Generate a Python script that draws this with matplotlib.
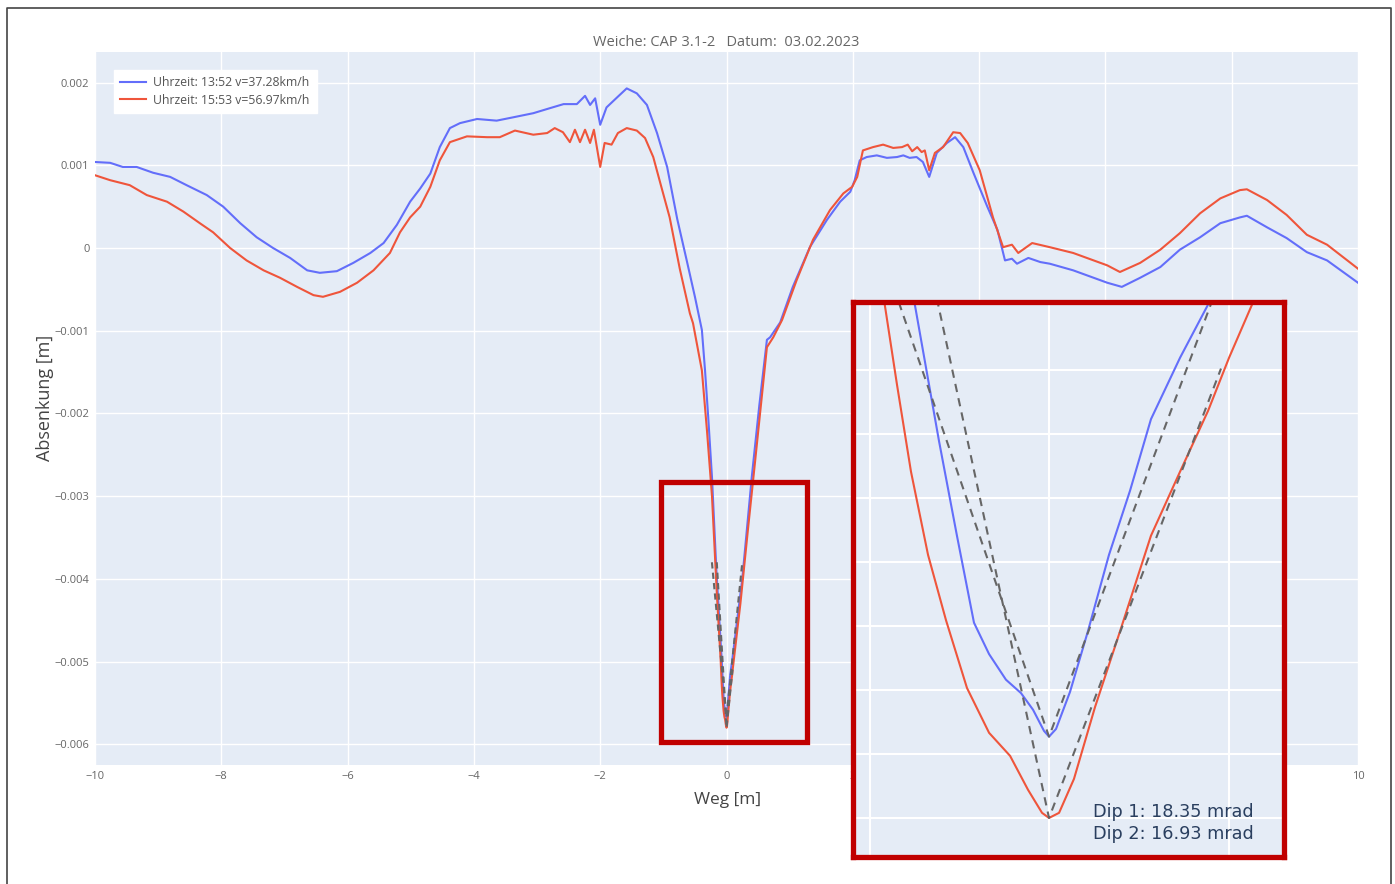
import numpy as np
import matplotlib
matplotlib.use("Agg")
import matplotlib.pyplot as plt
from matplotlib.patches import Rectangle

# === DATA (Weg in m, Absenkung in mm) ===
labels = ["Uhrzeit: 13:52 v=37.28km/h", "Uhrzeit: 15:53 v=56.97km/h"]
dip_texts = ["Dip 1: 18.35 mrad", "Dip 2: 16.93 mrad"]

weg_1 = [-10.0, -9.76, -9.56, -9.34, -9.08, -8.81, -8.55, -8.23, -7.97, -7.70,
         -7.44, -7.18, -6.91, -6.64, -6.44, -6.17, -5.91, -5.64, -5.43, -5.22,
         -5.01, -4.85, -4.69, -4.54, -4.38, -4.22, -3.95, -3.64, -3.38, -3.06,
         -2.80, -2.58, -2.37, -2.24, -2.16, -2.08, -2.00, -1.90, -1.72, -1.58,
         -1.42, -1.26, -1.10, -0.94, -0.78, -0.63, -0.50, -0.39, -0.34, -0.29,
         -0.23, -0.16,
         -0.0752, -0.0613, -0.0513, -0.0418, -0.0334, -0.024, -0.0156, -0.0089,
         -0.0028, 0.0, 0.0039, 0.0117, 0.0217, 0.0334, 0.0451, 0.0568, 0.073,
         0.0886,
         0.25, 0.40, 0.52, 0.64, 0.69, 0.85, 1.05, 1.32, 1.59, 1.80,
         1.96, 2.03, 2.11, 2.22, 2.38, 2.54, 2.70, 2.80, 2.90, 3.01,
         3.11, 3.21, 3.33, 3.49, 3.62, 3.75, 3.91, 4.13, 4.29, 4.41,
         4.52, 4.60, 4.78, 4.97, 5.12, 5.49, 6.03, 6.26, 6.55, 6.87,
         7.18, 7.50, 7.82, 8.13, 8.24, 8.56, 8.87, 9.19, 9.51, 10.0]
abs_1 = [1.04, 1.03, 0.98, 0.98, 0.91, 0.86, 0.76, 0.64, 0.50, 0.30,
         0.13, 0.00, -0.12, -0.27, -0.30, -0.28, -0.18, -0.06, 0.06, 0.28,
         0.56, 0.72, 0.90, 1.22, 1.45, 1.51, 1.56, 1.54, 1.58, 1.63,
         1.69, 1.74, 1.74, 1.84, 1.73, 1.81, 1.49, 1.70, 1.83, 1.93,
         1.87, 1.73, 1.39, 0.98, 0.35, -0.15, -0.59, -0.99, -1.48, -2.04,
         -2.77, -3.90,
         -4.991, -5.211, -5.359, -5.495, -5.544, -5.584, -5.605, -5.631,
         -5.664, -5.673, -5.661, -5.603, -5.508, -5.389, -5.289, -5.177, -5.081,
         -4.998,
         -4.00, -2.77, -1.90, -1.11, -1.08, -0.90, -0.47, 0.01, 0.34, 0.56,
         0.68, 0.82, 1.06, 1.10, 1.12, 1.09, 1.10, 1.12, 1.09, 1.10,
         1.04, 0.86, 1.15, 1.27, 1.34, 1.22, 0.91, 0.50, 0.22, -0.15,
         -0.13, -0.19, -0.12, -0.17, -0.19, -0.27, -0.42, -0.47, -0.36, -0.23,
         -0.02, 0.13, 0.30, 0.37, 0.39, 0.25, 0.12, -0.05, -0.15, -0.42]

weg_2 = [-10.0, -9.76, -9.45, -9.18, -8.86, -8.60, -8.34, -8.13, -7.86, -7.60,
         -7.33, -7.07, -6.80, -6.54, -6.39, -6.12, -5.85, -5.59, -5.33, -5.17,
         -5.01, -4.85, -4.69, -4.54, -4.38, -4.11, -3.79, -3.59, -3.35, -3.06,
         -2.84, -2.72, -2.59, -2.48, -2.40, -2.32, -2.24, -2.16, -2.10, -2.00,
         -1.93, -1.82, -1.72, -1.58, -1.42, -1.29, -1.16, -1.05, -0.90, -0.74,
         -0.58, -0.53, -0.39, -0.31, -0.23, -0.15,
         -0.0919, -0.0847, -0.0769, -0.0674, -0.0574, -0.0457, -0.0334, -0.0217,
         -0.0117, -0.0039, 0.0, 0.0056, 0.0139, 0.0256, 0.0396, 0.0568, 0.073,
         0.0886, 0.1003, 0.1131,
         0.22, 0.34, 0.45, 0.64, 0.74, 0.88, 1.11, 1.37, 1.64, 1.85,
         1.99, 2.07, 2.16, 2.32, 2.48, 2.64, 2.78, 2.87, 2.94, 3.02,
         3.09, 3.14, 3.21, 3.30, 3.43, 3.59, 3.70, 3.82, 4.01, 4.22,
         4.38, 4.52, 4.62, 4.84, 5.12, 5.49, 6.03, 6.23, 6.55, 6.87,
         7.18, 7.50, 7.82, 8.13, 8.24, 8.56, 8.87, 9.19, 9.51, 10.0]
abs_2 = [0.88, 0.82, 0.76, 0.64, 0.56, 0.44, 0.30, 0.19, 0.00, -0.15,
         -0.27, -0.36, -0.47, -0.57, -0.59, -0.53, -0.42, -0.27, -0.06, 0.19,
         0.37, 0.50, 0.74, 1.06, 1.28, 1.35, 1.34, 1.34, 1.42, 1.37,
         1.39, 1.45, 1.40, 1.28, 1.43, 1.28, 1.43, 1.27, 1.43, 0.98,
         1.27, 1.25, 1.39, 1.45, 1.42, 1.33, 1.10, 0.79, 0.37, -0.25,
         -0.79, -0.91, -1.48, -2.20, -3.00, -4.22,
         -4.991, -5.123, -5.259, -5.389, -5.491, -5.597, -5.667, -5.703,
         -5.756, -5.792, -5.800, -5.792, -5.739, -5.627, -5.508, -5.359, -5.259,
         -5.164, -5.081, -4.998,
         -4.30, -3.40, -2.60, -1.20, -1.08, -0.87, -0.39, 0.10, 0.46, 0.66,
         0.74, 0.86, 1.18, 1.22, 1.25, 1.21, 1.22, 1.25, 1.17, 1.22,
         1.16, 1.18, 0.94, 1.15, 1.22, 1.40, 1.39, 1.27, 0.94, 0.37,
         0.01, 0.04, -0.06, 0.06, 0.01, -0.06, -0.21, -0.29, -0.18, -0.02,
         0.18, 0.42, 0.60, 0.70, 0.71, 0.58, 0.40, 0.16, 0.04, -0.25]

# tangent lines at the dip (dashed)
tang_1_x = [-0.231, 0.0, 0.250]
tang_1_y = [-3.80, -5.673, -3.80]
tang_2_x = [-0.154, 0.0, 0.0958]
tang_2_y = [-3.80, -5.800, -5.098]

BLUE = "#636efa"
RED = "#ef553b"
BOX = "#c00000"
BG = "#e5ecf6"
W, H = 1395, 884


def m(v):
    return np.array(v) / 1000.0


plt.rcParams["font.family"] = ["Open Sans", "DejaVu Sans"]

fig = plt.figure(figsize=(W / 100, H / 100), dpi=100)

# === MAIN PLOT ===
ax = fig.add_axes([95 / W, 1 - 765 / H, 1263 / W, 713 / H])
ax.set_facecolor(BG)
for s in ax.spines.values():
    s.set_visible(False)
ax.grid(True, color="white", lw=1.0)
ax.set_axisbelow(True)

ax.plot(weg_1, m(abs_1), color=BLUE, lw=1.5, label=labels[0])
ax.plot(weg_2, m(abs_2), color=RED, lw=1.5, label=labels[1])
ax.plot(tang_1_x, m(tang_1_y), color="#666666", lw=1.5, ls=(0, (3, 2)))
ax.plot(tang_2_x, m(tang_2_y), color="#666666", lw=1.5, ls=(0, (3, 2)))

ax.set_xlim(-10, 10)
ax.set_ylim(-0.006251, 0.00237)
xt = np.arange(-10, 11, 2)
ax.set_xticks(xt)
ax.set_xticklabels([str(v).replace("-", "\u2212") for v in xt])
yt = np.arange(-6, 3) / 1000.0
ax.set_yticks(yt)
ax.set_yticklabels(["0" if v == 0 else f"{v:.3f}".replace("-", "\u2212") for v in yt])
ax.tick_params(length=0, labelsize=8, colors="#666666", pad=4)

leg = ax.legend(loc="upper left", bbox_to_anchor=(0.010, 0.984), fontsize=8.8,
                frameon=True, fancybox=False, handlelength=2.1, borderpad=0.55,
                labelspacing=0.35, handletextpad=0.6)
leg.get_frame().set_facecolor("white")
leg.get_frame().set_edgecolor("white")
leg.get_frame().set_alpha(1)
for t in leg.get_texts():
    t.set_color("#555555")

# red marker box round the dip
ax.add_patch(Rectangle((-1.03, -0.005967), 2.31, 0.003132, fill=False,
                       edgecolor=BOX, lw=3.8, zorder=5, clip_on=False))

fig.text(726 / W, 1 - 43 / H, "Weiche: CAP 3.1-2   Datum:  03.02.2023",
         ha="center", va="center", fontsize=10.5, color="#666666")
fig.text(45 / W, 1 - 398 / H, "Absenkung [m]", rotation=90, ha="center",
         va="center", fontsize=13, color="#444444")
fig.text(728 / W, 1 - 800 / H, "Weg [m]", ha="center", va="center",
         fontsize=12.5, color="#444444")

# === ZOOM INSET ===
ax_in = fig.add_axes([853 / W, 1 - 857 / H, 431 / W, 555 / H])
ax_in.set_facecolor(BG)
ax_in.grid(True, color="white", lw=1.5)
ax_in.set_axisbelow(True)
ax_in.plot(weg_1, m(abs_1), color=BLUE, lw=1.5)
ax_in.plot(weg_2, m(abs_2), color=RED, lw=1.5)
ax_in.plot(tang_1_x, m(tang_1_y), color="#666666", lw=1.5, ls=(0, (4, 3)))
ax_in.plot(tang_2_x, m(tang_2_y), color="#666666", lw=1.5, ls=(0, (4, 3)))
ax_in.set_xlim(-0.1092, 0.1309)
ax_in.set_ylim(-0.005861, -0.004994)
ax_in.set_xticks([-0.1, 0.0, 0.1])
ax_in.set_yticks(np.arange(-5.8, -5.05, 0.1) / 1000.0)
ax_in.tick_params(length=0, labelbottom=False, labelleft=False)
for s in ax_in.spines.values():
    s.set_color(BOX)
    s.set_linewidth(3.8)

ax_in.text(0.557, 0.081, dip_texts[0], transform=ax_in.transAxes,
           family="DejaVu Sans", fontsize=12.7, color="#2a3f5f", va="center")
ax_in.text(0.557, 0.041, dip_texts[1], transform=ax_in.transAxes,
           family="DejaVu Sans", fontsize=12.7, color="#2a3f5f", va="center")

# thin frame round the screenshot
fig.add_artist(plt.Line2D([7 / W, 7 / W, 1391 / W, 1391 / W],
                          [0, 1 - 8 / H, 1 - 8 / H, 0],
                          transform=fig.transFigure, color="#444444", lw=1.2))

fig.savefig("out.png", dpi=100, facecolor="white")
